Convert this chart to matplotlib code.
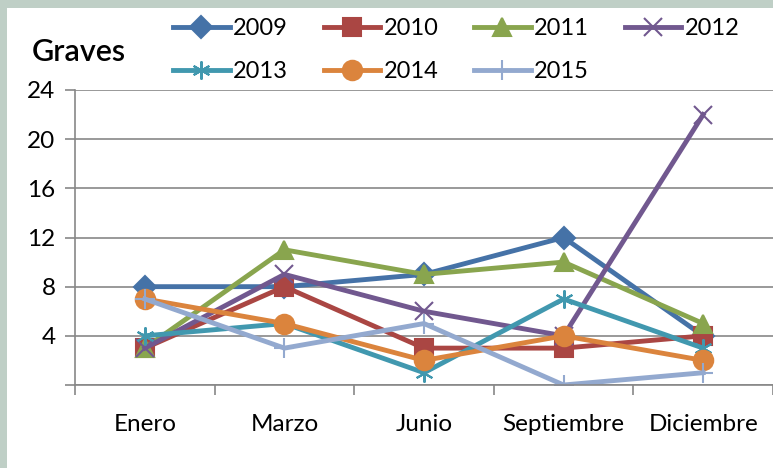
import matplotlib.pyplot as plt
import matplotlib.patches as mpatches
import numpy as np

plt.rcParams['font.family'] = ['Lato', 'DejaVu Sans']

months = ['Enero', 'Marzo', 'Junio', 'Septiembre', 'Diciembre']
years = ['2009', '2010', '2011', '2012', '2013', '2014', '2015']
v2009 = [8, 8, 9, 12, 4]
v2010 = [3, 8, 3, 3, 4]
v2011 = [3, 11, 9, 10, 5]
v2012 = [3, 9, 6, 4, 22]
v2013 = [4, 5, 1, 7, 3]
v2014 = [7, 5, 2, 4, 2]
v2015 = [7, 3, 5, 0, 1]
series = [v2009, v2010, v2011, v2012, v2013, v2014, v2015]

colors = ['#4572A7', '#AA4643', '#89A54E', '#71588F', '#4198AF', '#DB843D', '#93A9CF']
markers = ['D', 's', '^', 'x', (6, 2, 0), 'o', '+']
msizes = [11, 13, 13, 13, 13, 14, 15]

fig = plt.figure(figsize=(7.73, 4.68), dpi=100)
fig.patch.set_facecolor('#BFCFC6')
fig.patches.append(mpatches.Rectangle((7 / 773, 0), 1, 1 - 8 / 468, transform=fig.transFigure,
                                      facecolor='white', edgecolor='none', zorder=-5))

ax = fig.add_axes([75 / 773, 1 - 385 / 468, 1 - 75 / 773, (385 - 90) / 468])
ax.set_facecolor('white')
x = np.arange(len(months))
handles = []
for vals, yr, c, m, ms in zip(series, years, colors, markers, msizes):
    h, = ax.plot(x, vals, color=c, lw=3.5, marker=m, markersize=ms, markeredgewidth=1.5,
                 markerfacecolor=c, markeredgecolor=c, label=yr, solid_joinstyle='miter')
    handles.append(h)

ax.set_xlim(-0.5, 4.45)
ax.set_ylim(0, 24)
ax.set_yticks(range(0, 25, 4))
ax.set_yticklabels(['', '4', '8', '12', '16', '20', '24'])
ax.yaxis.grid(True, color='#878787', lw=1.2)
ax.set_axisbelow(True)

ax.set_xticks(np.arange(-0.5, 4.6, 1))
ax.set_xticklabels([])
ax.set_xticks(x, minor=True)
ax.set_xticklabels(months, minor=True)
ax.tick_params(axis='x', which='minor', length=0, pad=21, labelsize=17.5)
ax.tick_params(axis='x', which='major', length=7, color='#878787', width=1.2)
ax.tick_params(axis='y', length=7, color='#878787', width=1.2, labelsize=17.5, pad=7)

for s in ['top', 'right']:
    ax.spines[s].set_visible(False)
for s in ['left', 'bottom']:
    ax.spines[s].set_color('#878787')
    ax.spines[s].set_linewidth(1.2)

fig.text(32 / 773, 1 - 52 / 468, 'Graves', fontsize=22, fontweight='semibold', va='center', ha='left')

# legend fills column-wise, so reorder to read row-wise like the original
order = [0, 4, 1, 5, 2, 6, 3]
fig.legend(handles=[handles[i] for i in order], ncol=4, loc='upper left',
           bbox_to_anchor=(173 / 773, 1 - 18 / 468),
           frameon=False, fontsize=17, handlelength=2.4, handletextpad=0.15,
           columnspacing=1.5, labelspacing=0.95, borderpad=0, borderaxespad=0)

fig.savefig('out.png', dpi=100, facecolor=fig.get_facecolor())
